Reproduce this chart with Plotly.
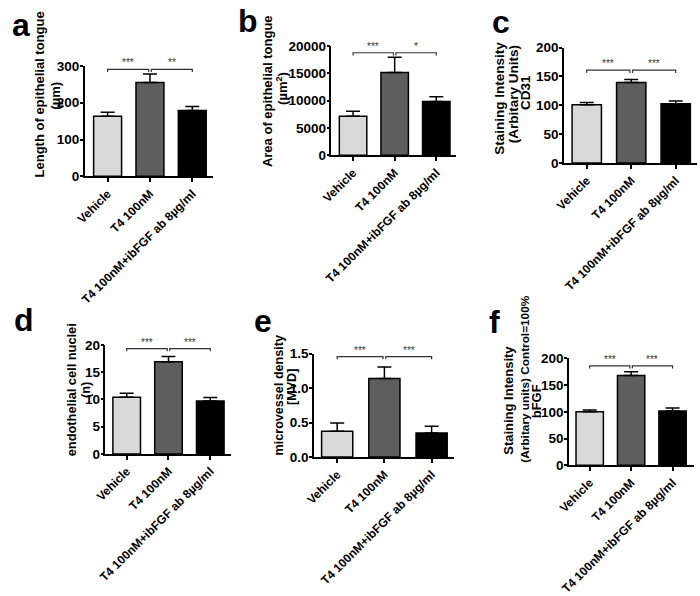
import plotly.graph_objects as go

# ---------------- data ----------------
categories = ["Vehicle", "T4 100nM", "T4 100nM+ibFGF ab 8µg/ml"]
bar_colors = ["#d9d9d9", "#5e5e5e", "#000000"]

a_means = [163, 255, 179]
a_sem = [11, 23, 11]
b_means = [7160, 15140, 9820]
b_sem = [890, 2760, 880]
c_means = [101, 139.5, 102.5]
c_sem = [4, 5, 5]
d_means = [10.4, 16.9, 9.7]
d_sem = [0.7, 0.95, 0.65]
e_means = [0.375, 1.14, 0.35]
e_sem = [0.12, 0.165, 0.095]
f_means = [100, 168, 101.5]
f_sem = [3.5, 7, 5.5]

a_stars = ["***", "**"]
b_stars = ["***", "*"]
c_stars = ["***", "***"]
d_stars = ["***", "***"]
e_stars = ["***", "***"]
f_stars = ["***", "***"]

a_bracket = 291
b_bracket = 18740
c_bracket = 161
d_bracket = 19.3
e_bracket = 1.455
f_bracket = 186

a_title = ["Length of epithelial tongue", "(µm)"]
b_title = ["Area of epithelial tongue", "(µm<sup>2</sup>)"]
c_title = ["Staining Intensity", "(Arbitary Units)", "CD31"]
d_title = ["endothelial cell nuclei", "(n)"]
e_title = ["microvessel density", "[MVD]"]
f_title = ["Staining Intensity", "(Arbitary units) Control=100%", "bFGF"]

# ---------------- layout helpers ----------------
W, H = 700, 596
FONT = "Liberation Sans, Arial, sans-serif"


def px_x(x):
    return x / W


def px_y(y):
    return 1 - y / H


panels = [
    dict(letter="a", means=a_means, sem=a_sem, stars=a_stars, bracket=a_bracket, title=a_title,
         xpx=(74, 205), ypx=(60.7, 174.3), yrange=[0, 300], dtick=100, fmt="d",
         xrange=[-0.54, 2.5], letter_pos=(9, 19),
         title_pos=[(28, 90.5, 13), (44, 91, 13)]),
    dict(letter="b", means=b_means, sem=b_sem, stars=b_stars, bracket=b_bracket, title=b_title,
         xpx=(325, 452), ypx=(40, 152.7), yrange=[0, 20000], dtick=5000, fmt="d",
         xrange=[-0.52, 2.48], letter_pos=(240, 14),
         title_pos=[(259.5, 86.5, 13), (274, 84, 13)]),
    dict(letter="c", means=c_means, sem=c_sem, stars=c_stars, bracket=c_bracket, title=c_title,
         xpx=(561.7, 697), ypx=(41.7, 160.7), yrange=[0, 200], dtick=50, fmt="d",
         xrange=[-0.51, 2.48], letter_pos=(498, 15),
         title_pos=[(496.5, 93.5, 13.5), (510.5, 90, 13.5), (523, 88.5, 13.5)]),
    dict(letter="d", means=d_means, sem=d_sem, stars=d_stars, bracket=d_bracket, title=d_title,
         xpx=(95, 223), ypx=(347.7, 460), yrange=[0, 20], dtick=5, fmt="d",
         xrange=[-0.51, 2.5], letter_pos=(12, 322),
         title_pos=[(60, 393.5, 12.8), (75, 394.5, 12.8)]),
    dict(letter="e", means=e_means, sem=e_sem, stars=e_stars, bracket=e_bracket, title=e_title,
         xpx=(307.3, 450), ypx=(356.7, 463.3), yrange=[0, 1.5], dtick=0.5, fmt=".1f",
         xrange=[-0.49, 2.48], letter_pos=(255, 323),
         title_pos=[(271.5, 400, 12.6), (285, 391, 12.6)]),
    dict(letter="f", means=f_means, sem=f_sem, stars=f_stars, bracket=f_bracket, title=f_title,
         xpx=(566.7, 694), ypx=(361.7, 471.7), yrange=[0, 200], dtick=50, fmt="d",
         xrange=[-0.5, 2.52], letter_pos=(491, 324),
         title_pos=[(505, 405, 13), (521, 383.5, 11.8), (534, 406, 13)]),
]

fig = go.Figure()
layout = dict(
    width=W, height=H, margin=dict(l=0, r=0, t=0, b=0),
    paper_bgcolor="white", plot_bgcolor="white", showlegend=False,
    font=dict(family=FONT, color="black"),
)
annotations = []
shapes = []

for i, p in enumerate(panels):
    n = "" if i == 0 else str(i + 1)
    xa, ya = "x" + n, "y" + n
    xpos = list(range(len(categories)))
    fig.add_trace(go.Bar(
        x=xpos, y=p["means"], xaxis=xa, yaxis=ya, width=0.66,
        marker=dict(color=bar_colors, line=dict(color="black", width=1.5)),
        error_y=dict(type="data", array=p["sem"], arrayminus=[0] * len(p["sem"]), symmetric=False,
                     color="black", thickness=1.5, width=7),
        hoverinfo="skip",
    ))
    layout["xaxis" + n] = dict(
        domain=[px_x(p["xpx"][0]), px_x(p["xpx"][1])], anchor=ya, range=p["xrange"],
        tickvals=xpos, ticktext=categories, tickangle=-45,
        ticks="outside", ticklen=4, tickwidth=1.5, tickcolor="black",
        showline=True, linecolor="black", linewidth=1.5, showgrid=False, zeroline=False,
        tickfont=dict(family=FONT, size=12, color="black", weight="bold"), fixedrange=True,
    )
    layout["yaxis" + n] = dict(
        domain=[px_y(p["ypx"][1]), px_y(p["ypx"][0])], anchor=xa, range=p["yrange"],
        dtick=p["dtick"], tick0=0, tickformat=p["fmt"],
        ticks="outside", ticklen=3, tickwidth=1.5, tickcolor="black", ticklabelstandoff=-2,
        showline=True, linecolor="black", linewidth=1.5, showgrid=False, zeroline=False,
        tickfont=dict(family=FONT, size=13.5, color="black", weight="bold"), fixedrange=True,
    )
    # significance brackets
    arm = (p["yrange"][1] - p["yrange"][0]) * 0.025
    yb = p["bracket"]
    for (x0, x1), s in zip([(0, 0.97), (1.03, 2)], p["stars"]):
        shapes.append(dict(
            type="path", xref=xa, yref=ya,
            path=f"M {x0} {yb - arm} L {x0} {yb} L {x1} {yb} L {x1} {yb - arm}",
            line=dict(color="#333333", width=1.2),
        ))
        annotations.append(dict(
            x=(x0 + x1) / 2, y=yb, xref=xa, yref=ya, text=s, showarrow=False,
            xanchor="center", yanchor="bottom", yshift=-1,
            font=dict(family=FONT, size=10, color="#333333"),
        ))
    # y-axis titles, one annotation per line
    for txt, (tx, ty, fs) in zip(p["title"], p["title_pos"]):
        annotations.append(dict(
            x=px_x(tx), y=px_y(ty), xref="paper", yref="paper", text=txt, showarrow=False,
            textangle=-90, xanchor="center", yanchor="middle",
            font=dict(family=FONT, size=fs, color="black", weight="bold"),
        ))
    # panel letter
    lx, ly = p["letter_pos"]
    annotations.append(dict(
        x=px_x(lx), y=px_y(ly), xref="paper", yref="paper", text=p["letter"], showarrow=False,
        xanchor="center", yanchor="middle",
        font=dict(family=FONT, size=32, color="black", weight="bold"),
    ))

layout["annotations"] = annotations
layout["shapes"] = shapes
fig.update_layout(**layout)
fig.write_html(
    "out.html",
    config={"displayModeBar": False},
    post_script=(
        "document.documentElement.style.margin='0';document.documentElement.style.overflow='hidden';"
        "document.body.style.margin='0';document.body.style.padding='0';document.body.style.overflow='hidden';"
    ),
)
